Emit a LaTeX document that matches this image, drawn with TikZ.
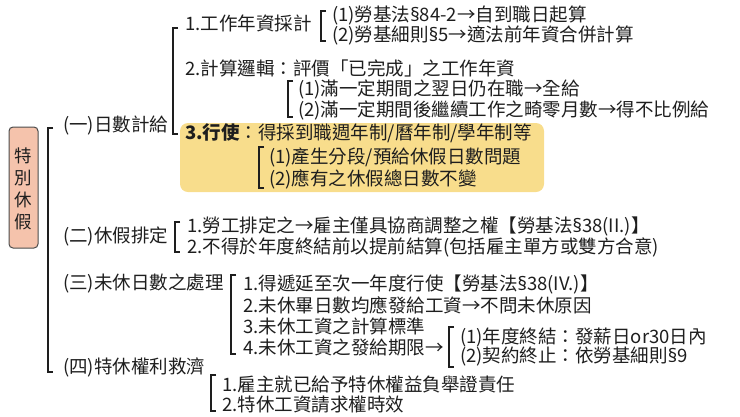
\documentclass[tikz,border=0pt]{standalone}
\usepackage{fontspec}
\setmainfont{Noto Sans CJK TC}
\newfontfamily\latf{Noto Sans}
\newcommand\sect{{\latf\S}}
\definecolor{salmon}{HTML}{F5C3AC}
\definecolor{gold}{HTML}{F8DD8C}
\definecolor{ink}{HTML}{1E1E1E}
\tikzset{
  txt/.style={anchor=west,inner sep=0pt,text=ink,font=\fontsize{18.5}{20}\selectfont},
  brkline/.style={draw=ink,line width=1.3pt,line cap=butt,line join=miter},
}
\newcommand\mybrk[3]{\draw[brkline] (#1+5,#2) -- (#1,#2) -- (#1,#3) -- (#1+5,#3);}
\begin{document}
\begin{tikzpicture}[x=1pt,y=-1pt]
\useasboundingbox (0,0) rectangle (740,416);
% root
\draw[fill=salmon,draw=black!70,line width=1pt,rounded corners=4pt] (9,127) rectangle (38,248);
\node[inner sep=0pt,text=ink,align=center,font=\fontsize{17.5}{22}\selectfont] (root) at (23.5,189) {特\\別\\休\\假};
\mybrk{48}{128}{372}
% level 1
\node[txt] (n1) at (63,126) {(一)日數計給};
\node[txt] (n2) at (63,236) {(二)休假排定};
\node[txt] (n3) at (63,283) {(三)未休日數之處理};
\node[txt] (n4) at (63,367) {(四)特休權利救濟};
% (一)
\mybrk{173}{28}{134}
\node[txt] (n1a) at (185,23) {1.工作年資採計};
\mybrk{321}{11}{41}
\node[txt] (n1a1) at (332,15) {(1)勞基法\sect84-2→自到職日起算};
\node[txt] (n1a2) at (332,35) {(2)勞基細則\sect5→適法前年資合併計算};
\node[txt] (n1b) at (185,68) {2.計算邏輯：評價「已完成」之工作年資};
\mybrk{288}{81}{117}
\node[txt] (n1b1) at (298,89) {(1)滿一定期間之翌日仍在職→全給};
\node[txt] (n1b2) at (298,110) {(2)滿一定期間後繼續工作之畸零月數→得不比例給};
\fill[gold,rounded corners=8pt] (180,123) rectangle (544,192);
\node[txt] (n1c) at (185,133) {\textbf{3.行使}：得採到職週年制/曆年制/學年制等};
\mybrk{259}{147}{188}
\node[txt] (n1c1) at (269,157) {(1)產生分段/預給休假日數問題};
\node[txt] (n1c2) at (269,179) {(2)應有之休假總日數不變};
% (二)
\mybrk{175}{222}{252}
\node[txt] (n2a) at (187,226) {1.勞工排定之→雇主僅具協商調整之權【勞基法\sect38(II.)】};
\node[txt] (n2b) at (187,247) {2.不得於年度終結前以提前結算(包括雇主單方或雙方合意)};
% (三)
\mybrk{231}{275}{354}
\node[txt] (n3a) at (243,284) {1.得遞延至次一年度行使【勞基法\sect38(IV.)】};
\node[txt] (n3b) at (243,305) {2.未休畢日數均應發給工資→不問未休原因};
\node[txt] (n3c) at (243,326) {3.未休工資之計算標準};
\node[txt] (n3d) at (243,347) {4.未休工資之發給期限→};
\mybrk{449}{327}{367}
\node[txt] (n3d1) at (460,337) {(1)年度終結：發薪日or30日內};
\node[txt] (n3d2) at (460,357) {(2)契約終止：依勞基細則\sect9};
% (四)
\mybrk{211}{375}{411}
\node[txt] (n4a) at (222,384) {1.雇主就已給予特休權益負舉證責任};
\node[txt] (n4b) at (222,405) {2.特休工資請求權時效};
\end{tikzpicture}
\end{document}
